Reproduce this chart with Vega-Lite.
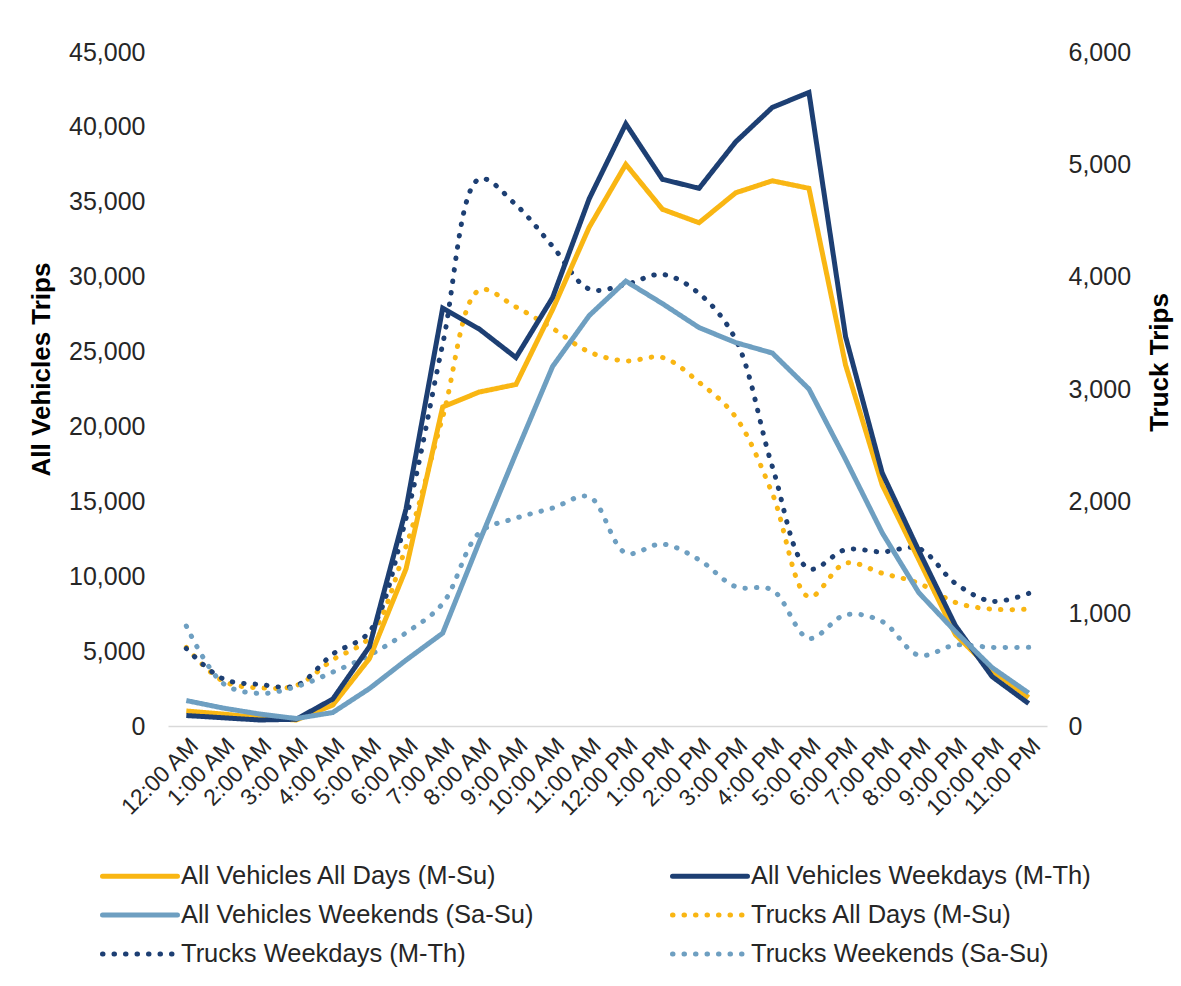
{
  "$schema": "https://vega.github.io/schema/vega-lite/v6.json",
  "width": 879,
  "height": 674,
  "autosize": {"type": "none"},
  "padding": {"left": 168, "top": 52, "right": 134, "bottom": 260},
  "background": "white",
  "config": {
    "font": "Liberation Sans",
    "view": {"stroke": null},
    "axis": {
      "labelFont": "Liberation Sans",
      "labelFontSize": 25,
      "labelColor": "#262626",
      "titleFont": "Liberation Sans",
      "titleFontSize": 26,
      "titleColor": "#000000",
      "titleFontWeight": "bold",
      "ticks": false,
      "domain": false,
      "gridColor": "#D9D9D9",
      "gridWidth": 1.5
    }
  },
  "datasets": {
    "veh": [
      {"h": "12:00 AM", "s": "All Vehicles All Days (M-Su)", "v": 1000},
      {"h": "1:00 AM", "s": "All Vehicles All Days (M-Su)", "v": 800},
      {"h": "2:00 AM", "s": "All Vehicles All Days (M-Su)", "v": 550},
      {"h": "3:00 AM", "s": "All Vehicles All Days (M-Su)", "v": 400},
      {"h": "4:00 AM", "s": "All Vehicles All Days (M-Su)", "v": 1400},
      {"h": "5:00 AM", "s": "All Vehicles All Days (M-Su)", "v": 4500},
      {"h": "6:00 AM", "s": "All Vehicles All Days (M-Su)", "v": 10500},
      {"h": "7:00 AM", "s": "All Vehicles All Days (M-Su)", "v": 21300},
      {"h": "8:00 AM", "s": "All Vehicles All Days (M-Su)", "v": 22300},
      {"h": "9:00 AM", "s": "All Vehicles All Days (M-Su)", "v": 22800},
      {"h": "10:00 AM", "s": "All Vehicles All Days (M-Su)", "v": 27800},
      {"h": "11:00 AM", "s": "All Vehicles All Days (M-Su)", "v": 33300},
      {"h": "12:00 PM", "s": "All Vehicles All Days (M-Su)", "v": 37500},
      {"h": "1:00 PM", "s": "All Vehicles All Days (M-Su)", "v": 34500},
      {"h": "2:00 PM", "s": "All Vehicles All Days (M-Su)", "v": 33600},
      {"h": "3:00 PM", "s": "All Vehicles All Days (M-Su)", "v": 35600},
      {"h": "4:00 PM", "s": "All Vehicles All Days (M-Su)", "v": 36400},
      {"h": "5:00 PM", "s": "All Vehicles All Days (M-Su)", "v": 35900},
      {"h": "6:00 PM", "s": "All Vehicles All Days (M-Su)", "v": 24100},
      {"h": "7:00 PM", "s": "All Vehicles All Days (M-Su)", "v": 16100},
      {"h": "8:00 PM", "s": "All Vehicles All Days (M-Su)", "v": 11100},
      {"h": "9:00 PM", "s": "All Vehicles All Days (M-Su)", "v": 6100},
      {"h": "10:00 PM", "s": "All Vehicles All Days (M-Su)", "v": 3700},
      {"h": "11:00 PM", "s": "All Vehicles All Days (M-Su)", "v": 1900},
      {"h": "12:00 AM", "s": "All Vehicles Weekdays (M-Th)", "v": 700},
      {"h": "1:00 AM", "s": "All Vehicles Weekdays (M-Th)", "v": 550},
      {"h": "2:00 AM", "s": "All Vehicles Weekdays (M-Th)", "v": 400},
      {"h": "3:00 AM", "s": "All Vehicles Weekdays (M-Th)", "v": 450},
      {"h": "4:00 AM", "s": "All Vehicles Weekdays (M-Th)", "v": 1800},
      {"h": "5:00 AM", "s": "All Vehicles Weekdays (M-Th)", "v": 5300},
      {"h": "6:00 AM", "s": "All Vehicles Weekdays (M-Th)", "v": 14500},
      {"h": "7:00 AM", "s": "All Vehicles Weekdays (M-Th)", "v": 27900},
      {"h": "8:00 AM", "s": "All Vehicles Weekdays (M-Th)", "v": 26500},
      {"h": "9:00 AM", "s": "All Vehicles Weekdays (M-Th)", "v": 24600},
      {"h": "10:00 AM", "s": "All Vehicles Weekdays (M-Th)", "v": 28600},
      {"h": "11:00 AM", "s": "All Vehicles Weekdays (M-Th)", "v": 35200},
      {"h": "12:00 PM", "s": "All Vehicles Weekdays (M-Th)", "v": 40200},
      {"h": "1:00 PM", "s": "All Vehicles Weekdays (M-Th)", "v": 36500},
      {"h": "2:00 PM", "s": "All Vehicles Weekdays (M-Th)", "v": 35900},
      {"h": "3:00 PM", "s": "All Vehicles Weekdays (M-Th)", "v": 39000},
      {"h": "4:00 PM", "s": "All Vehicles Weekdays (M-Th)", "v": 41300},
      {"h": "5:00 PM", "s": "All Vehicles Weekdays (M-Th)", "v": 42300},
      {"h": "6:00 PM", "s": "All Vehicles Weekdays (M-Th)", "v": 26000},
      {"h": "7:00 PM", "s": "All Vehicles Weekdays (M-Th)", "v": 16900},
      {"h": "8:00 PM", "s": "All Vehicles Weekdays (M-Th)", "v": 11700},
      {"h": "9:00 PM", "s": "All Vehicles Weekdays (M-Th)", "v": 6700},
      {"h": "10:00 PM", "s": "All Vehicles Weekdays (M-Th)", "v": 3300},
      {"h": "11:00 PM", "s": "All Vehicles Weekdays (M-Th)", "v": 1500},
      {"h": "12:00 AM", "s": "All Vehicles Weekends (Sa-Su)", "v": 1700},
      {"h": "1:00 AM", "s": "All Vehicles Weekends (Sa-Su)", "v": 1200},
      {"h": "2:00 AM", "s": "All Vehicles Weekends (Sa-Su)", "v": 800},
      {"h": "3:00 AM", "s": "All Vehicles Weekends (Sa-Su)", "v": 500},
      {"h": "4:00 AM", "s": "All Vehicles Weekends (Sa-Su)", "v": 900},
      {"h": "5:00 AM", "s": "All Vehicles Weekends (Sa-Su)", "v": 2500},
      {"h": "6:00 AM", "s": "All Vehicles Weekends (Sa-Su)", "v": 4400},
      {"h": "7:00 AM", "s": "All Vehicles Weekends (Sa-Su)", "v": 6200},
      {"h": "8:00 AM", "s": "All Vehicles Weekends (Sa-Su)", "v": 12300},
      {"h": "9:00 AM", "s": "All Vehicles Weekends (Sa-Su)", "v": 18200},
      {"h": "10:00 AM", "s": "All Vehicles Weekends (Sa-Su)", "v": 24000},
      {"h": "11:00 AM", "s": "All Vehicles Weekends (Sa-Su)", "v": 27400},
      {"h": "12:00 PM", "s": "All Vehicles Weekends (Sa-Su)", "v": 29700},
      {"h": "1:00 PM", "s": "All Vehicles Weekends (Sa-Su)", "v": 28200},
      {"h": "2:00 PM", "s": "All Vehicles Weekends (Sa-Su)", "v": 26600},
      {"h": "3:00 PM", "s": "All Vehicles Weekends (Sa-Su)", "v": 25600},
      {"h": "4:00 PM", "s": "All Vehicles Weekends (Sa-Su)", "v": 24900},
      {"h": "5:00 PM", "s": "All Vehicles Weekends (Sa-Su)", "v": 22500},
      {"h": "6:00 PM", "s": "All Vehicles Weekends (Sa-Su)", "v": 17800},
      {"h": "7:00 PM", "s": "All Vehicles Weekends (Sa-Su)", "v": 12900},
      {"h": "8:00 PM", "s": "All Vehicles Weekends (Sa-Su)", "v": 8900},
      {"h": "9:00 PM", "s": "All Vehicles Weekends (Sa-Su)", "v": 6300},
      {"h": "10:00 PM", "s": "All Vehicles Weekends (Sa-Su)", "v": 3900},
      {"h": "11:00 PM", "s": "All Vehicles Weekends (Sa-Su)", "v": 2200}
    ],
    "trk": [
      {"h": "12:00 AM", "s": "Trucks All Days (M-Su)", "v": 700},
      {"h": "1:00 AM", "s": "Trucks All Days (M-Su)", "v": 400},
      {"h": "2:00 AM", "s": "Trucks All Days (M-Su)", "v": 340},
      {"h": "3:00 AM", "s": "Trucks All Days (M-Su)", "v": 360},
      {"h": "4:00 AM", "s": "Trucks All Days (M-Su)", "v": 590},
      {"h": "5:00 AM", "s": "Trucks All Days (M-Su)", "v": 790},
      {"h": "6:00 AM", "s": "Trucks All Days (M-Su)", "v": 1600},
      {"h": "7:00 AM", "s": "Trucks All Days (M-Su)", "v": 2750},
      {"h": "8:00 AM", "s": "Trucks All Days (M-Su)", "v": 3880},
      {"h": "9:00 AM", "s": "Trucks All Days (M-Su)", "v": 3730},
      {"h": "10:00 AM", "s": "Trucks All Days (M-Su)", "v": 3540},
      {"h": "11:00 AM", "s": "Trucks All Days (M-Su)", "v": 3330},
      {"h": "12:00 PM", "s": "Trucks All Days (M-Su)", "v": 3250},
      {"h": "1:00 PM", "s": "Trucks All Days (M-Su)", "v": 3280},
      {"h": "2:00 PM", "s": "Trucks All Days (M-Su)", "v": 3060},
      {"h": "3:00 PM", "s": "Trucks All Days (M-Su)", "v": 2750},
      {"h": "4:00 PM", "s": "Trucks All Days (M-Su)", "v": 2070},
      {"h": "5:00 PM", "s": "Trucks All Days (M-Su)", "v": 1150},
      {"h": "6:00 PM", "s": "Trucks All Days (M-Su)", "v": 1450},
      {"h": "7:00 PM", "s": "Trucks All Days (M-Su)", "v": 1360},
      {"h": "8:00 PM", "s": "Trucks All Days (M-Su)", "v": 1270},
      {"h": "9:00 PM", "s": "Trucks All Days (M-Su)", "v": 1100},
      {"h": "10:00 PM", "s": "Trucks All Days (M-Su)", "v": 1040},
      {"h": "11:00 PM", "s": "Trucks All Days (M-Su)", "v": 1040},
      {"h": "12:00 AM", "s": "Trucks Weekdays (M-Th)", "v": 690},
      {"h": "1:00 AM", "s": "Trucks Weekdays (M-Th)", "v": 420},
      {"h": "2:00 AM", "s": "Trucks Weekdays (M-Th)", "v": 370},
      {"h": "3:00 AM", "s": "Trucks Weekdays (M-Th)", "v": 360},
      {"h": "4:00 AM", "s": "Trucks Weekdays (M-Th)", "v": 640},
      {"h": "5:00 AM", "s": "Trucks Weekdays (M-Th)", "v": 840},
      {"h": "6:00 AM", "s": "Trucks Weekdays (M-Th)", "v": 1850},
      {"h": "7:00 AM", "s": "Trucks Weekdays (M-Th)", "v": 3400},
      {"h": "8:00 AM", "s": "Trucks Weekdays (M-Th)", "v": 4870},
      {"h": "9:00 AM", "s": "Trucks Weekdays (M-Th)", "v": 4640},
      {"h": "10:00 AM", "s": "Trucks Weekdays (M-Th)", "v": 4270},
      {"h": "11:00 AM", "s": "Trucks Weekdays (M-Th)", "v": 3890},
      {"h": "12:00 PM", "s": "Trucks Weekdays (M-Th)", "v": 3930},
      {"h": "1:00 PM", "s": "Trucks Weekdays (M-Th)", "v": 4020},
      {"h": "2:00 PM", "s": "Trucks Weekdays (M-Th)", "v": 3850},
      {"h": "3:00 PM", "s": "Trucks Weekdays (M-Th)", "v": 3440},
      {"h": "4:00 PM", "s": "Trucks Weekdays (M-Th)", "v": 2310},
      {"h": "5:00 PM", "s": "Trucks Weekdays (M-Th)", "v": 1400},
      {"h": "6:00 PM", "s": "Trucks Weekdays (M-Th)", "v": 1570},
      {"h": "7:00 PM", "s": "Trucks Weekdays (M-Th)", "v": 1550},
      {"h": "8:00 PM", "s": "Trucks Weekdays (M-Th)", "v": 1580},
      {"h": "9:00 PM", "s": "Trucks Weekdays (M-Th)", "v": 1270},
      {"h": "10:00 PM", "s": "Trucks Weekdays (M-Th)", "v": 1110},
      {"h": "11:00 PM", "s": "Trucks Weekdays (M-Th)", "v": 1180},
      {"h": "12:00 AM", "s": "Trucks Weekends (Sa-Su)", "v": 890},
      {"h": "1:00 AM", "s": "Trucks Weekends (Sa-Su)", "v": 380},
      {"h": "2:00 AM", "s": "Trucks Weekends (Sa-Su)", "v": 290},
      {"h": "3:00 AM", "s": "Trucks Weekends (Sa-Su)", "v": 350},
      {"h": "4:00 AM", "s": "Trucks Weekends (Sa-Su)", "v": 480},
      {"h": "5:00 AM", "s": "Trucks Weekends (Sa-Su)", "v": 630},
      {"h": "6:00 AM", "s": "Trucks Weekends (Sa-Su)", "v": 830},
      {"h": "7:00 AM", "s": "Trucks Weekends (Sa-Su)", "v": 1090},
      {"h": "8:00 AM", "s": "Trucks Weekends (Sa-Su)", "v": 1720},
      {"h": "9:00 AM", "s": "Trucks Weekends (Sa-Su)", "v": 1850},
      {"h": "10:00 AM", "s": "Trucks Weekends (Sa-Su)", "v": 1940},
      {"h": "11:00 AM", "s": "Trucks Weekends (Sa-Su)", "v": 2040},
      {"h": "12:00 PM", "s": "Trucks Weekends (Sa-Su)", "v": 1540},
      {"h": "1:00 PM", "s": "Trucks Weekends (Sa-Su)", "v": 1620},
      {"h": "2:00 PM", "s": "Trucks Weekends (Sa-Su)", "v": 1480},
      {"h": "3:00 PM", "s": "Trucks Weekends (Sa-Su)", "v": 1240},
      {"h": "4:00 PM", "s": "Trucks Weekends (Sa-Su)", "v": 1210},
      {"h": "5:00 PM", "s": "Trucks Weekends (Sa-Su)", "v": 780},
      {"h": "6:00 PM", "s": "Trucks Weekends (Sa-Su)", "v": 990},
      {"h": "7:00 PM", "s": "Trucks Weekends (Sa-Su)", "v": 930},
      {"h": "8:00 PM", "s": "Trucks Weekends (Sa-Su)", "v": 630},
      {"h": "9:00 PM", "s": "Trucks Weekends (Sa-Su)", "v": 720},
      {"h": "10:00 PM", "s": "Trucks Weekends (Sa-Su)", "v": 700},
      {"h": "11:00 PM", "s": "Trucks Weekends (Sa-Su)", "v": 700}
    ]
  },
  "encoding": {
    "x": {
      "field": "h",
      "type": "ordinal",
      "scale": {
        "type": "point",
        "padding": 0.5,
        "domain": ["12:00 AM", "1:00 AM", "2:00 AM", "3:00 AM", "4:00 AM", "5:00 AM", "6:00 AM", "7:00 AM", "8:00 AM", "9:00 AM", "10:00 AM", "11:00 AM", "12:00 PM", "1:00 PM", "2:00 PM", "3:00 PM", "4:00 PM", "5:00 PM", "6:00 PM", "7:00 PM", "8:00 PM", "9:00 PM", "10:00 PM", "11:00 PM"]
      },
      "axis": {"title": null, "labelAngle": -45, "domain": true, "domainColor": "#D9D9D9", "domainWidth": 1.5, "labelPadding": 8, "labelFontSize": 23}
    },
    "color": {
      "field": "s",
      "type": "nominal",
      "title": null,
      "scale": {
        "domain": ["All Vehicles All Days (M-Su)", "All Vehicles Weekends (Sa-Su)", "Trucks Weekdays (M-Th)", "All Vehicles Weekdays (M-Th)", "Trucks All Days (M-Su)", "Trucks Weekends (Sa-Su)"],
        "range": ["#F9B613", "#6E9FC1", "#1D3F73", "#1D3F73", "#F9B613", "#6E9FC1"]
      },
      "legend": {
        "orient": "none",
        "legendX": -68,
        "legendY": 799,
        "columns": 2,
        "columnPadding": 128,
        "rowPadding": -1.5,
        "padding": 0,
        "symbolType": "M-1,0H2.333",
        "symbolSize": 2025,
        "symbolStrokeWidth": 5,
        "labelFont": "Liberation Sans",
        "labelFontSize": 25.5,
        "labelColor": "#262626",
        "labelLimit": 0,
        "labelOffset": 31,
        "encode": {"symbols": {"update": {"strokeCap": {"value": "round"}}}}
      }
    },
    "strokeDash": {
      "field": "s",
      "type": "nominal",
      "title": null,
      "scale": {
        "domain": ["All Vehicles All Days (M-Su)", "All Vehicles Weekends (Sa-Su)", "Trucks Weekdays (M-Th)", "All Vehicles Weekdays (M-Th)", "Trucks All Days (M-Su)", "Trucks Weekends (Sa-Su)"],
        "range": [[1, 0], [1, 0], [0.5, 11], [1, 0], [0.5, 11], [0.5, 11]]
      }
    }
  },
  "layer": [
    {
      "data": {"name": "trk"},
      "mark": {"type": "line", "strokeWidth": 5, "strokeCap": "round", "interpolate": "catmull-rom"},
      "encoding": {
        "y": {
          "field": "v",
          "type": "quantitative",
          "scale": {"domain": [0, 6000]},
          "axis": {"orient": "right", "title": "Truck Trips", "grid": false, "values": [0, 1000, 2000, 3000, 4000, 5000, 6000], "format": ",d", "labelPadding": 21, "titlePadding": 42, "titleAngle": -90, "titleY": 310}
        }
      }
    },
    {
      "data": {"name": "veh"},
      "mark": {"type": "line", "strokeWidth": 5},
      "encoding": {
        "y": {
          "field": "v",
          "type": "quantitative",
          "scale": {"domain": [0, 45000]},
          "axis": {"orient": "left", "title": "All Vehicles Trips", "values": [0, 5000, 10000, 15000, 20000, 25000, 30000, 35000, 40000, 45000], "format": ",d", "labelPadding": 23, "titlePadding": 14, "titleY": 317}
        }
      }
    }
  ],
  "resolve": {"scale": {"y": "independent"}}
}
